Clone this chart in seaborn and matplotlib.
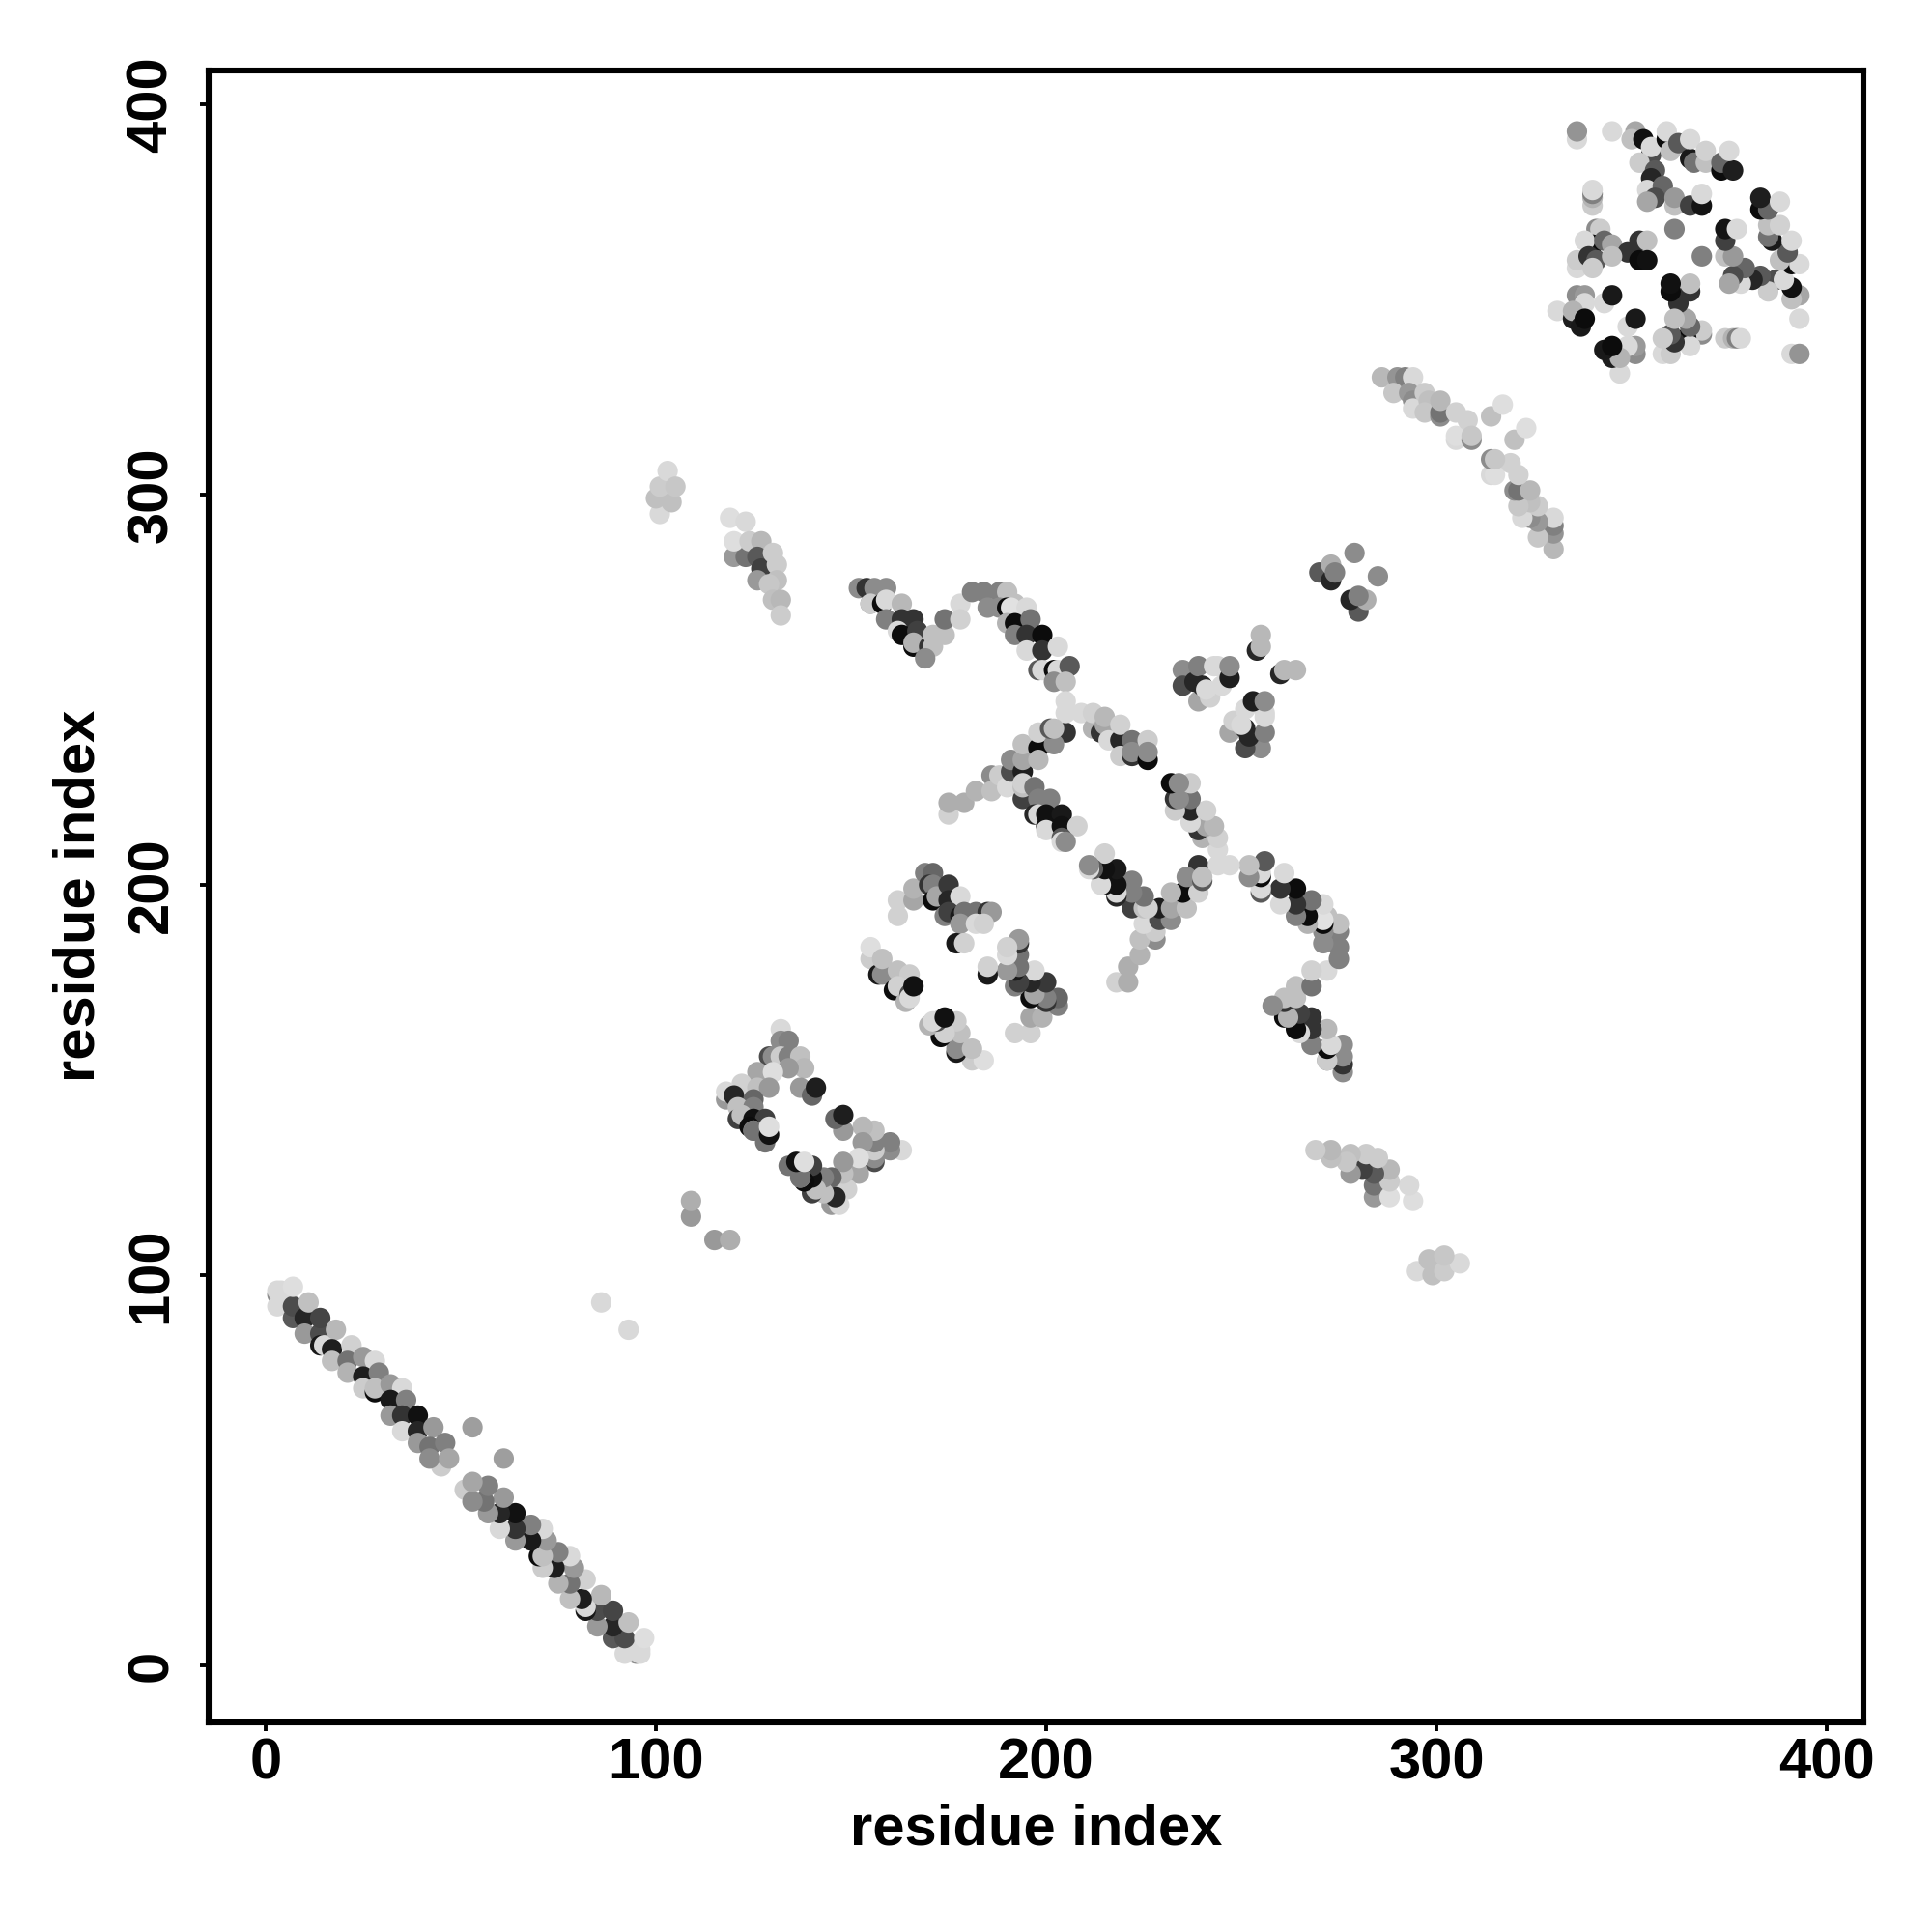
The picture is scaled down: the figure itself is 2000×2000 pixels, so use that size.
import pandas as pd
import seaborn as sns
import matplotlib.pyplot as plt

# contacts as (residue a, residue b, grey level), a < b
# the map is symmetric so each contact gets drawn at (a,b) and (b,a)
band_contacts = [
    (3,95,.55),(3,96,.85),(4,96,.85),(3,92,.85),(7,89,.35),(7,92,.3),(7,97,.87),(10,89,.15),(11,93,.75),
    (10,85,.6),(14,85,.3),(14,89,.27),(14,82,.1),(15,82,.85),(18,86,.72),(17,81,.12),(22,82,.82),
    (17,78,.75),(21,78,.45),(25,79,.6),(28,78,.85),(21,75,.7),(25,74,.12),(29,75,.5),(25,71,.8),
    (28,70,.05),(28,71,.75),(32,72,.6),(35,71,.85),(32,68,.1),(36,68,.5),(32,64,.6),(35,64,.2),
    (39,64,.07),(35,60,.85),(39,60,.15),(43,61,.6),(39,57,.6),(42,56,.45),(46,57,.5),(45,51,.8),
    (42,53,.55),(47,53,.65),(53,61,.62),
]
small_contacts = [
    (86,93,.85),(109,115,.6),(109,119,.68),
]
diamond_contacts = [
    (132,163,.85),(132,160,.55),(134,160,.5),(129,156,.3),(130,156,.55),(132,156,.8),(134,156,.5),
    (137,156,.75),(138,153,.72),(134,153,.6),(126,152,.65),(130,152,.87),(122,149,.82),(126,148,.75),
    (129,148,.6),(137,148,.6),(140,146,.4),(141,148,.12),(118,145,.6),(118,147,.85),(120,146,.15),
    (125,145,.4),(121,143,.75),(125,143,.5),(121,140,.25),(122,141,.75),(125,140,.07),(128,140,.25),
    (124,138,.05),(125,137,.7),(125,137,.45),(128,134,.45),(129,136,.07),(129,138,.87),
]
far_contacts = [
    (101,295,.85),(100,299,.75),(104,298,.75),(101,302,.8),(103,306,.85),(105,302,.78),
    (119,294,.87),(123,293,.85),(120,284,.6),(123,284,.45),(120,288,.87),(124,288,.8),(127,288,.72),
    (126,284,.35),(127,281,.25),(130,285,.8),(131,282,.8),(126,278,.6),(131,278,.75),(129,277,.78),
    (130,273,.75),(132,273,.72),(132,269,.8),
]
sheet_contacts = [
    (155,181,.8),(155,184,.87),(157,177,.1),(158,177,.55),(158,181,.75),(162,178,.75),(165,177,.8),
    (161,173,.05),(162,174,.82),(164,170,.7),(165,172,.3),(165,171,.85),(166,174,.07),
    (162,192,.82),(162,196,.82),(166,196,.65),(166,199,.7),(169,203,.5),(171,203,.4),(170,200,.2),
    (171,200,.5),(171,196,.05),(172,197,.65),(175,200,.22),(175,196,.15),(178,197,.85),(174,192,.5),
    (175,193,.25),(178,192,.1),(179,193,.45),(182,193,.45),(185,193,.2),(186,193,.6),(178,190,.6),
    (182,190,.85),(184,190,.82),(177,185,.1),(179,185,.82),
]
strand_contacts = [
    (152,276,.55),(154,276,.2),(156,276,.55),(159,276,.55),(155,272,.55),(155,272,.8),(158,272,.05),
    (159,273,.85),(163,272,.72),(159,268,.5),(163,268,.2),(166,268,.2),(162,265,.85),(163,264,.05),
    (167,265,.25),(166,261,.05),(166,262,.7),(170,261,.2),(171,264,.75),(174,264,.75),(171,261,.75),
    (169,258,.55),(174,268,.45),(178,272,.85),(178,268,.82),
    (181,275,.5),(184,275,.5),(188,275,.5),(190,275,.75),(185,271,.55),(188,271,.55),(192,272,.75),
    (190,271,.05),(191,271,.88),(195,271,.85),(190,267,.7),(192,267,.05),(196,268,.45),(192,264,.5),
    (195,264,.2),(199,264,.05),(195,260,.85),(199,260,.2),(203,261,.85),(198,255,.35),(199,255,.85),
    (202,255,.05),(203,255,.85),(206,256,.35),(202,252,.55),(205,252,.75),
]
helix_contacts = [
    (205,247,.85),(205,239,.2),(205,244,.85),(209,244,.85),(212,240,.7),(212,244,.82),(214,239,.2),
    (215,241,.65),(215,243,.72),(216,237,.85),(219,237,.15),(219,241,.82),(222,237,.45),(219,233,.8),
    (222,233,.2),(222,234,.55),(226,232,.05),(226,237,.8),(226,234,.55),
    (175,218,.82),(175,221,.68),(179,221,.68),(182,224,.7),(186,228,.55),(186,224,.75),(188,228,.8),
    (190,225,.85),(191,229,.3),(191,232,.55),(194,229,.12),(194,232,.65),(194,236,.75),(198,235,.05),
    (198,232,.72),(198,239,.82),(202,236,.55),(201,240,.35),(202,240,.75),
    (194,222,.25),(194,225,.75),(194,226,.82),(197,225,.45),(198,222,.5),(201,222,.5),(197,218,.15),
    (198,218,.85),(200,218,.07),(204,218,.1),(200,215,.07),(200,214,.85),(204,215,.07),(208,215,.82),
    (204,212,.35),(204,211,.85),(205,211,.55),
    (235,255,.55),(235,251,.3),(238,252,.15),(239,256,.5),(239,247,.65),(243,256,.85),(242,248,.82),
    (240,251,.15),(241,250,.85),(245,251,.85),(244,256,.85),(247,253,.12),(247,256,.55),
    (254,260,.15),(255,261,.72),(255,264,.72),
]
loop_contacts = [
    (270,280,.35),(273,278,.15),(273,282,.68),(274,280,.5),(279,285,.55),
    (286,330,.72),(290,330,.58),(292,330,.5),(294,330,.85),(289,326,.78),(293,326,.6),(294,324,.55),
    (294,322,.85),(297,326,.8),(298,324,.75),(297,321,.78),(301,320,.55),(301,321,.45),(301,324,.72),
    (305,321,.82),(305,314,.85),(305,315,.87),(308,319,.82),(309,314,.55),(309,315,.78),(314,320,.75),
    (317,323,.87),
]
cterm_contacts = [
    (336,391,.85),(336,393,.58),(345,393,.85),(351,393,.65),(350,391,.75),(353,391,.07),(355,387,.3),
    (355,389,.85),(359,391,.05),(359,393,.85),(360,388,.75),(362,390,.35),(365,386,.1),(366,385,.45),
    (365,391,.85),(369,385,.75),(369,388,.82),(352,385,.8),(356,383,.35),(355,381,.15),(354,378,.85),
    (358,379,.4),(356,376,.3),(354,375,.65),(361,374,.75),(361,376,.6),(340,374,.8),(340,376,.7),
    (340,377,.5),(340,378,.85),(365,374,.25),(368,374,.08),(368,377,.85),(373,383,.05),(373,385,.4),
    (376,383,.12),(375,388,.85),(361,368,.5),(341,368,.55),(342,368,.8),(340,364,.05),(338,365,.85),
    (343,365,.4),(345,364,.65),(352,365,.2),(354,365,.75),(349,362,.2),(352,360,.05),(354,360,.07),
    (336,358,.85),(336,360,.8),(339,361,.2),(341,360,.35),(340,358,.8),(345,361,.75),(336,351,.55),
    (338,351,.6),(338,349,.85),(343,349,.85),(345,351,.1),(331,347,.85),(335,345,.12),(335,347,.7),
    (337,343,.1),(338,345,.05),
]
tick_values = [0, 100, 200, 300, 400]

contacts = (band_contacts + small_contacts + diamond_contacts + far_contacts + sheet_contacts
            + strand_contacts + helix_contacts + loop_contacts + cterm_contacts)
half = pd.DataFrame(contacts, columns=['a', 'b', 'grey'])
df = pd.concat([half.rename(columns={'a': 'x', 'b': 'y'}),
                half.rename(columns={'b': 'x', 'a': 'y'})], ignore_index=True)

sns.set_style('white')
plt.rcParams['font.family'] = ['Liberation Sans', 'DejaVu Sans']
plt.rcParams['font.weight'] = 'bold'
plt.rcParams['text.color'] = 'black'
plt.rcParams['axes.labelcolor'] = 'black'
plt.rcParams['xtick.labelcolor'] = 'black'
plt.rcParams['ytick.labelcolor'] = 'black'

fig = plt.figure(figsize=(10, 10), dpi=200)
ax = fig.add_axes([0.108, 0.1085, 0.8563, 0.8552])

sns.scatterplot(data=df, x='x', y='y', hue='grey', palette='gray', hue_norm=(0, 1),
                s=58, linewidth=0, legend=False, ax=ax)

ax.set_xlim(-14.6, 409.3)
ax.set_ylim(-14.6, 408.7)
ax.set_xticks(tick_values)
ax.set_yticks(tick_values)
ax.tick_params(axis='both', length=3.2, width=1.4, color='black', left=True, bottom=True,
               labelsize=21.5)
ax.tick_params(axis='x', pad=2.3)
ax.tick_params(axis='y', pad=8)
plt.setp(ax.get_yticklabels(), rotation=90, va='center')
for spine in ax.spines.values():
    spine.set_linewidth(2.2)
    spine.set_color('black')

ax.set_xlabel('residue index', fontsize=21.5, fontweight='bold', labelpad=4.9)
ax.set_ylabel('residue index', fontsize=21.5, fontweight='bold', labelpad=7.4)

plt.savefig('out.png', dpi=200)
